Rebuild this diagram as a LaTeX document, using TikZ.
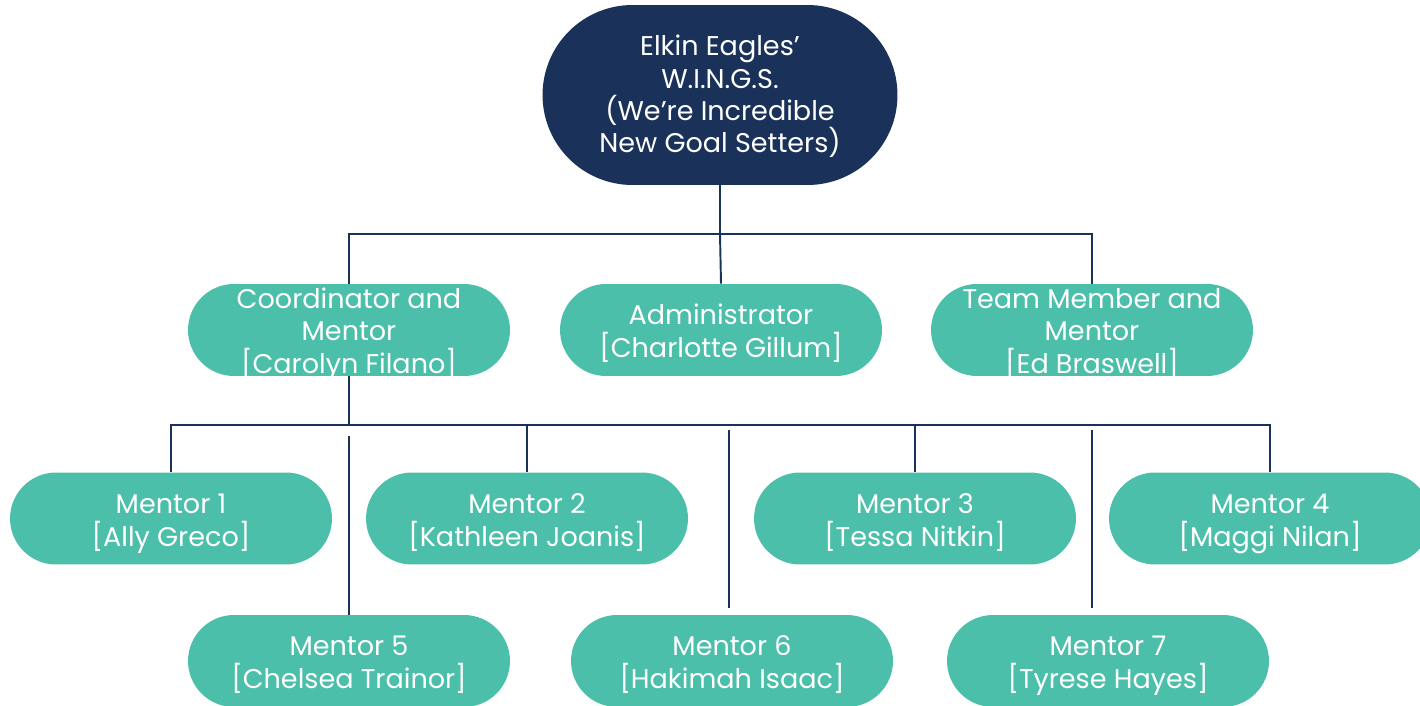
\documentclass[tikz,border=0pt]{standalone}
\usepackage{fontspec}
\setmainfont{Poppins}
\definecolor{navy}{HTML}{1A3259}
\definecolor{tealbox}{HTML}{4BBFA9}
\newcommand\lb{\smash{[}}
\newcommand\rb{\smash{]}}
\newcommand\lp{\smash{(}}
\newcommand\rp{\smash{)}}
\newcommand\boxtext[2][0.09cm]{\raisebox{-#1}[\dimexpr\height-5pt\relax][\dimexpr\depth-5pt\relax]{\begin{tabular}{@{}c@{}}#2\end{tabular}}}
\begin{document}
\begin{tikzpicture}[x=0.02cm,y=-0.02cm,
  box/.style={fill=tealbox, rounded corners=0.92cm, minimum width=6.44cm,
    minimum height=1.84cm, inner sep=0pt, text=white,
    font=\fontsize{15.4}{18.4}\selectfont},
  topbox/.style={fill=navy, rounded corners=1.8cm, minimum width=7.1cm,
    minimum height=3.6cm, inner sep=0pt, text=white,
    font=\fontsize{15.4}{18.4}\selectfont},
  link/.style={draw=navy, line width=1.1pt}]
\useasboundingbox (0,0) rectangle (1420,706);
\clip (0,0) rectangle (1420,706);
% nodes
\node[topbox] (top) at (720,95) {\boxtext[0.06cm]{Elkin Eagles’\\W.I.N.G.S.\\\lp We’re Incredible\\New Goal Setters\rp}};
\node[box] (coord) at (349,330) {\boxtext{Coordinator and\\Mentor\\\lb Carolyn Filano\rb}};
\node[box] (admin) at (721,330) {\boxtext{Administrator\\\lb Charlotte Gillum\rb}};
\node[box] (team) at (1092,330) {\boxtext{Team Member and\\Mentor\\\lb Ed Braswell\rb}};
\node[box] (m1) at (171,518.5) {\boxtext[0.1cm]{Mentor 1\\\lb Ally Greco\rb}};
\node[box] (m2) at (527,518.5) {\boxtext[0.1cm]{Mentor 2\\\lb Kathleen Joanis\rb}};
\node[box] (m3) at (915,518.5) {\boxtext[0.1cm]{Mentor 3\\\lb Tessa Nitkin\rb}};
\node[box] (m4) at (1270,518.5) {\boxtext[0.1cm]{Mentor 4\\\lb Maggi Nilan\rb}};
\node[box] (m5) at (349,661) {\boxtext{Mentor 5\\\lb Chelsea Trainor\rb}};
\node[box] (m6) at (732,661) {\boxtext{Mentor 6\\\lb Hakimah Isaac\rb}};
\node[box] (m7) at (1108,661) {\boxtext{Mentor 7\\\lb Tyrese Hayes\rb}};
% junctions
\coordinate (j1) at (720,234);
\coordinate (j2) at (349,425);
\coordinate (g5) at (349,436);
\coordinate (g6) at (729,430);
\coordinate (g6e) at (729,608);
\coordinate (g7) at (1092,430);
\coordinate (g7e) at (1092,608);
% connectors
\draw[link] (top.south) -- (j1);
\draw[link] (coord.north) |- (j1) -| (team.north);
\draw[link] (j1) -- (admin.north);
\draw[link] (coord.south) -- (j2);
\draw[link] (m1.north) |- (j2) -| (m4.north);
\draw[link] (m2.north) -- (m2.north |- j2);
\draw[link] (m3.north) -- (m3.north |- j2);
\draw[link] (g5) -- (m5.north);
\draw[link] (g6) -- (g6e);
\draw[link] (g7) -- (g7e);
\end{tikzpicture}
\end{document}
